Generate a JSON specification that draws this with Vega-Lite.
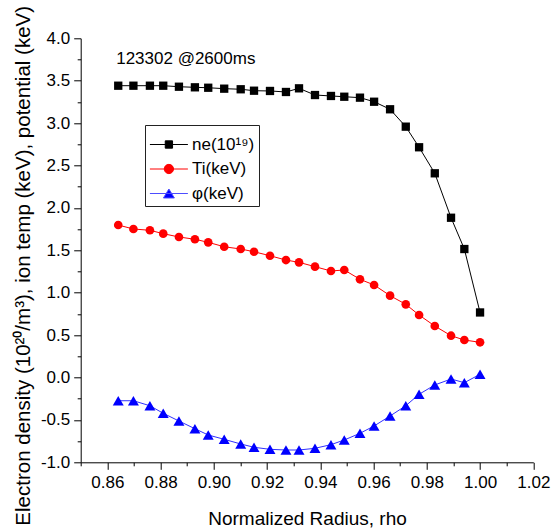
{
  "$schema": "https://vega.github.io/schema/vega-lite/v6.json",
  "width": 452.6,
  "height": 424,
  "autosize": {"type": "none"},
  "padding": {"left": 80.7, "top": 38.3, "right": 18.7, "bottom": 68.7},
  "background": "white",
  "title": {"text": "123302 @2600ms", "anchor": "start", "frame": "group", "orient": "top", "offset": 0, "dx": 35.5, "dy": 76, "baseline": "alphabetic", "font": "Liberation Sans", "fontSize": 17, "fontWeight": "normal", "color": "#000000"},
  "datasets": {
    "profiles": [
      {"rho": 0.8641, "series": "ne(10¹⁹)", "v": 3.441},
      {"rho": 0.8698, "series": "ne(10¹⁹)", "v": 3.441},
      {"rho": 0.8760, "series": "ne(10¹⁹)", "v": 3.441},
      {"rho": 0.8810, "series": "ne(10¹⁹)", "v": 3.441},
      {"rho": 0.8869, "series": "ne(10¹⁹)", "v": 3.429},
      {"rho": 0.8929, "series": "ne(10¹⁹)", "v": 3.422},
      {"rho": 0.8979, "series": "ne(10¹⁹)", "v": 3.417},
      {"rho": 0.9039, "series": "ne(10¹⁹)", "v": 3.406},
      {"rho": 0.9101, "series": "ne(10¹⁹)", "v": 3.399},
      {"rho": 0.9151, "series": "ne(10¹⁹)", "v": 3.382},
      {"rho": 0.9211, "series": "ne(10¹⁹)", "v": 3.379},
      {"rho": 0.9271, "series": "ne(10¹⁹)", "v": 3.367},
      {"rho": 0.9320, "series": "ne(10¹⁹)", "v": 3.410},
      {"rho": 0.9380, "series": "ne(10¹⁹)", "v": 3.331},
      {"rho": 0.9440, "series": "ne(10¹⁹)", "v": 3.320},
      {"rho": 0.9490, "series": "ne(10¹⁹)", "v": 3.311},
      {"rho": 0.9549, "series": "ne(10¹⁹)", "v": 3.300},
      {"rho": 0.9602, "series": "ne(10¹⁹)", "v": 3.252},
      {"rho": 0.9662, "series": "ne(10¹⁹)", "v": 3.163},
      {"rho": 0.9721, "series": "ne(10¹⁹)", "v": 2.958},
      {"rho": 0.9771, "series": "ne(10¹⁹)", "v": 2.715},
      {"rho": 0.9830, "series": "ne(10¹⁹)", "v": 2.408},
      {"rho": 0.9891, "series": "ne(10¹⁹)", "v": 1.884},
      {"rho": 0.9941, "series": "ne(10¹⁹)", "v": 1.515},
      {"rho": 1.0000, "series": "ne(10¹⁹)", "v": 0.767},
      {"rho": 0.8641, "series": "Ti(keV)", "v": 1.798},
      {"rho": 0.8698, "series": "Ti(keV)", "v": 1.751},
      {"rho": 0.8760, "series": "Ti(keV)", "v": 1.736},
      {"rho": 0.8810, "series": "Ti(keV)", "v": 1.696},
      {"rho": 0.8869, "series": "Ti(keV)", "v": 1.657},
      {"rho": 0.8929, "series": "Ti(keV)", "v": 1.630},
      {"rho": 0.8979, "series": "Ti(keV)", "v": 1.594},
      {"rho": 0.9039, "series": "Ti(keV)", "v": 1.542},
      {"rho": 0.9101, "series": "Ti(keV)", "v": 1.515},
      {"rho": 0.9151, "series": "Ti(keV)", "v": 1.483},
      {"rho": 0.9211, "series": "Ti(keV)", "v": 1.436},
      {"rho": 0.9271, "series": "Ti(keV)", "v": 1.385},
      {"rho": 0.9320, "series": "Ti(keV)", "v": 1.358},
      {"rho": 0.9380, "series": "Ti(keV)", "v": 1.307},
      {"rho": 0.9440, "series": "Ti(keV)", "v": 1.256},
      {"rho": 0.9490, "series": "Ti(keV)", "v": 1.268},
      {"rho": 0.9549, "series": "Ti(keV)", "v": 1.158},
      {"rho": 0.9602, "series": "Ti(keV)", "v": 1.091},
      {"rho": 0.9662, "series": "Ti(keV)", "v": 0.965},
      {"rho": 0.9721, "series": "Ti(keV)", "v": 0.863},
      {"rho": 0.9771, "series": "Ti(keV)", "v": 0.737},
      {"rho": 0.9830, "series": "Ti(keV)", "v": 0.607},
      {"rho": 0.9891, "series": "Ti(keV)", "v": 0.493},
      {"rho": 0.9941, "series": "Ti(keV)", "v": 0.442},
      {"rho": 1.0000, "series": "Ti(keV)", "v": 0.415},
      {"rho": 0.8641, "series": "φ(keV)", "v": -0.274},
      {"rho": 0.8698, "series": "φ(keV)", "v": -0.274},
      {"rho": 0.8760, "series": "φ(keV)", "v": -0.333},
      {"rho": 0.8810, "series": "φ(keV)", "v": -0.422},
      {"rho": 0.8869, "series": "φ(keV)", "v": -0.513},
      {"rho": 0.8929, "series": "φ(keV)", "v": -0.604},
      {"rho": 0.8979, "series": "φ(keV)", "v": -0.678},
      {"rho": 0.9039, "series": "φ(keV)", "v": -0.729},
      {"rho": 0.9101, "series": "φ(keV)", "v": -0.784},
      {"rho": 0.9151, "series": "φ(keV)", "v": -0.823},
      {"rho": 0.9211, "series": "φ(keV)", "v": -0.847},
      {"rho": 0.9271, "series": "φ(keV)", "v": -0.855},
      {"rho": 0.9320, "series": "φ(keV)", "v": -0.855},
      {"rho": 0.9380, "series": "φ(keV)", "v": -0.835},
      {"rho": 0.9440, "series": "φ(keV)", "v": -0.792},
      {"rho": 0.9490, "series": "φ(keV)", "v": -0.737},
      {"rho": 0.9549, "series": "φ(keV)", "v": -0.658},
      {"rho": 0.9602, "series": "φ(keV)", "v": -0.572},
      {"rho": 0.9662, "series": "φ(keV)", "v": -0.454},
      {"rho": 0.9721, "series": "φ(keV)", "v": -0.333},
      {"rho": 0.9771, "series": "φ(keV)", "v": -0.198},
      {"rho": 0.9830, "series": "φ(keV)", "v": -0.088},
      {"rho": 0.9891, "series": "φ(keV)", "v": -0.018},
      {"rho": 0.9941, "series": "φ(keV)", "v": -0.061},
      {"rho": 1.0000, "series": "φ(keV)", "v": 0.038}
    ]
  },
  "data": {"name": "profiles"},
  "encoding": {
    "x": {
      "field": "rho", "type": "quantitative",
      "scale": {"domain": [0.85, 1.02], "nice": false, "zero": false},
      "axis": {
        "title": "Normalized Radius, rho",
        "values": [0.85, 0.86, 0.87, 0.88, 0.89, 0.9, 0.91, 0.92, 0.93, 0.94, 0.95, 0.96, 0.97, 0.98, 0.99, 1.0, 1.01, 1.02],
        "labelExpr": "round(datum.value*100)%2==0 ? format(datum.value,'.2f') : ''",
        "tickSize": {"condition": {"test": "round(datum.value*100)%2==0", "value": 7}, "value": 3.5},
        "labelPadding": 5,
        "titlePadding": 19
      }
    },
    "y": {
      "field": "v", "type": "quantitative",
      "scale": {"domain": [-1, 4], "nice": false, "zero": false},
      "axis": {
        "title": "Electron density (10²⁰/m³), ion temp (keV), potential (keV)",
        "titleFontSize": 20.5,
        "titleY": 227,
        "values": [-1, -0.75, -0.5, -0.25, 0, 0.25, 0.5, 0.75, 1, 1.25, 1.5, 1.75, 2, 2.25, 2.5, 2.75, 3, 3.25, 3.5, 3.75, 4],
        "labelExpr": "round(datum.value*4)%2==0 ? replace(format(datum.value,'.1f'),'\u2212','-') : ''",
        "tickSize": {"condition": {"test": "round(datum.value*4)%2==0", "value": 7}, "value": 3.5},
        "labelPadding": 4,
        "titlePadding": 7
      }
    }
  },
  "layer": [
    {
      "mark": {"type": "line", "strokeWidth": 1},
      "encoding": {
        "color": {"field": "series", "type": "nominal",
          "scale": {"domain": ["φ(keV)", "Ti(keV)", "ne(10¹⁹)"], "range": ["#3030ff", "#ff0000", "#000000"]},
          "legend": null}
      }
    },
    {
      "transform": [{"filter": "datum.series == 'ne(10¹⁹)'"}],
      "mark": {"type": "point", "shape": "square", "filled": true, "size": 69, "color": "#000000", "opacity": 1}
    },
    {
      "transform": [{"filter": "datum.series == 'Ti(keV)'"}],
      "mark": {"type": "point", "shape": "circle", "filled": true, "size": 75, "color": "#ff0000", "opacity": 1}
    },
    {
      "transform": [{"filter": "datum.series == 'φ(keV)'"}],
      "mark": {"type": "point", "shape": "triangle-up", "filled": true, "size": 120, "color": "#0000ff", "opacity": 1}
    },
    {
      "transform": [{"filter": "datum.v > 100"}],
      "mark": {"type": "point", "filled": true, "strokeWidth": 1},
      "encoding": {
        "fill": {"field": "series", "type": "nominal",
          "scale": {"domain": ["ne(10¹⁹)", "Ti(keV)", "φ(keV)"], "range": ["#000000", "#ff0000", "#0000ff"]},
          "legend": {"title": " ", "titleFontSize": 7, "titlePadding": 0, "orient": "none", "legendX": 64.3, "legendY": 86.7, "symbolSize": 231, "symbolOpacity": 1, "symbolStrokeWidth": 1, "labelFont": "Liberation Sans", "labelFontSize": 17, "labelColor": "#000000", "labelOffset": 26, "rowPadding": 6.5, "padding": 4, "strokeColor": "#222222"}},
        "stroke": {"field": "series", "type": "nominal",
          "scale": {"domain": ["ne(10¹⁹)", "Ti(keV)", "φ(keV)"], "range": ["#000000", "#ff0000", "#4d4dff"]},
          "legend": {"title": " ", "titleFontSize": 7, "titlePadding": 0, "orient": "none", "legendX": 64.3, "legendY": 86.7, "symbolSize": 231, "symbolOpacity": 1, "symbolStrokeWidth": 1, "labelFont": "Liberation Sans", "labelFontSize": 17, "labelColor": "#000000", "labelOffset": 26, "rowPadding": 6.5, "padding": 4, "strokeColor": "#222222"}},
        "shape": {"field": "series", "type": "nominal",
          "scale": {"domain": ["ne(10¹⁹)", "Ti(keV)", "φ(keV)"], "range": ["M-1,0H4M1.02,-0.48H1.98V0.48H1.02Z", "M-1,0H4M0.89,0A0.61,0.61 0 1,0 2.11,0A0.61,0.61 0 1,0 0.89,0Z", "M-1,0H4M1.5,-0.59L2.22,0.59H0.78Z"]},
          "legend": {"title": " ", "titleFontSize": 7, "titlePadding": 0, "orient": "none", "legendX": 64.3, "legendY": 86.7, "symbolSize": 231, "symbolOpacity": 1, "symbolStrokeWidth": 1, "labelFont": "Liberation Sans", "labelFontSize": 17, "labelColor": "#000000", "labelOffset": 26, "rowPadding": 6.5, "padding": 4, "strokeColor": "#222222"}}
      }
    }
  ],
  "config": {
    "view": {"stroke": null},
    "legend": {
      "labelFont": "Liberation Sans",
      "labelFontSize": 17,
      "labelColor": "#000000",
      "labelOffset": 26,
      "rowPadding": 6.5,
      "padding": 4,
      "symbolSize": 231,
      "symbolStrokeWidth": 1,
      "strokeColor": "#222222"
    },
    "axis": {
      "grid": false,
      "domainColor": "#000000",
      "domainWidth": 1,
      "tickColor": "#000000",
      "tickWidth": 1,
      "labelColor": "#000000",
      "labelFont": "Liberation Sans",
      "labelFontSize": 17,
      "labelOverlap": false,
      "labelFlush": false,
      "titleColor": "#000000",
      "titleFont": "Liberation Sans",
      "titleFontSize": 19,
      "titleFontWeight": "normal"
    }
  }
}
